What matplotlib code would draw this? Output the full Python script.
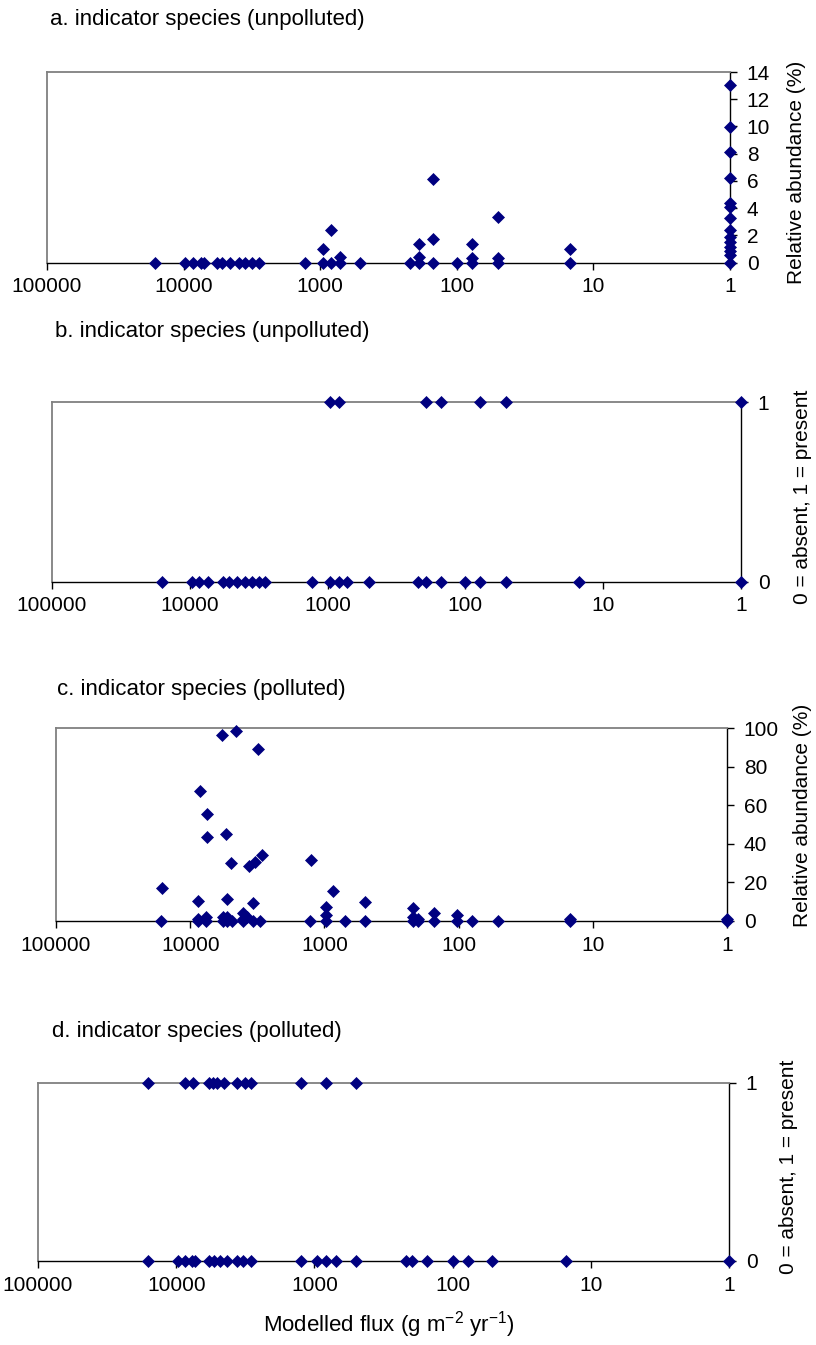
import matplotlib
matplotlib.use("Agg")
import matplotlib.pyplot as plt
from matplotlib.ticker import FixedLocator, NullLocator

plt.rcParams['font.family'] = ['Liberation Sans', 'DejaVu Sans']
plt.rcParams['mathtext.fontset'] = 'custom'
plt.rcParams['mathtext.rm'] = 'Liberation Sans'
plt.rcParams['mathtext.default'] = 'regular'

W, H = 816, 1345
MARKER = '#000080'
FRAME = '#808080'

flux_ticks = [100000, 10000, 1000, 100, 10, 1]
flux_labels = ['100000', '10000', '1000', '100', '10', '1']

# a. relative abundance of unpolluted-indicator species
a_flux = [16100, 9720, 8550, 7470, 7140, 5700, 5240, 4550, 3960, 3530, 3160, 2820,
          1285, 960, 960, 830, 830, 713, 713, 508, 219, 190, 190, 190,
          150, 150, 150, 99, 77, 77, 77, 50, 50, 50, 14.8, 14.8,
          1, 1, 1, 1, 1, 1, 1, 1, 1, 1, 1, 1, 1, 1]
a_abund = [0, 0, 0, 0, 0, 0, 0, 0, 0, 0, 0, 0,
           0, 0, 0.98, 0, 2.37, 0, 0.44, 0, 0, 0, 0.44, 1.37,
           0, 1.74, 6.11, 0, 0, 0.32, 1.37, 0, 0.32, 3.35, 0, 0.98,
           13.03, 9.93, 8.09, 6.23, 4.35, 4.06, 3.26, 2.40, 1.91, 1.54, 1.17, 0.81, 0.56, 0]

# b. presence / absence of unpolluted-indicator species
b_flux = [15800, 9640, 8610, 7380, 5740, 5220, 4540, 4000, 3510, 3145, 2826,
          1290, 967, 830, 725, 500, 222, 194, 151, 100, 79, 51, 15, 1,
          967, 830, 194, 151, 79, 51, 1]
b_present = [0, 0, 0, 0, 0, 0, 0, 0, 0, 0, 0,
             0, 0, 0, 0, 0, 0, 0, 0, 0, 0, 0, 0, 0,
             1, 1, 1, 1, 1, 1, 1]

# c. relative abundance of polluted-indicator species
c_flux = [5800, 4560, 3130, 8510, 7550, 7550, 5450, 4970, 3670, 3310, 2940, 1260, 16200,
          860, 8700, 5300, 3390, 496, 968, 217, 4020, 152, 102,
          16400, 8700, 8700, 7600, 7600, 5740, 5740, 5300, 5300, 4860, 4020, 4020,
          3750, 3390, 3000, 1275, 968, 968, 700, 496, 217, 217, 199, 199, 152,
          102, 79, 51, 14.7, 14.7, 1, 1]
c_abund = [96.5, 98.2, 89.2, 67.2, 55.5, 43.3, 45.0, 29.8, 28.6, 30.6, 34.3, 31.5, 17.0,
           15.5, 10.5, 11.5, 9.5, 10.0, 7.0, 6.5, 4.0, 4.0, 3.0,
           0, 1.0, 0, 2.0, 0, 2.0, 0, 2.0, 0, 0, 1.0, 0,
           2.0, 0, 0, 0, 3.0, 0, 0, 0, 2.0, 0, 1.0, 0, 0,
           0, 0, 0, 1.0, 0, 1.0, 0]

# d. presence / absence of polluted-indicator species
d_flux = [16100, 9750, 8670, 7720, 7340, 5820, 5350, 4850, 4310, 3650, 3300, 2890,
          1260, 962, 828, 701, 502, 219, 198, 154, 100, 78, 52, 15.2, 1,
          16000, 8670, 7550, 5790, 5420, 5070, 4530, 3660, 3190, 2855, 1255, 818, 502]
d_present = [0] * 25 + [1] * 13

fig = plt.figure(figsize=(W / 100, H / 100), dpi=100)


def px_axes(left, right, top, bottom):
    return fig.add_axes([left / W, 1 - bottom / H, (right - left) / W, (bottom - top) / H])


panels = [
    dict(box=(47, 730, 72, 262.5), x=a_flux, y=a_abund, ylim=(0, 14), yticks=list(range(0, 15, 2)),
         title='a. indicator species (unpolluted)', tpos=(50, 20),
         ylabel='Relative abundance (%)', lpos=(796, 172)),
    dict(box=(52, 741, 402, 581.5), x=b_flux, y=b_present, ylim=(0, 1), yticks=[0, 1],
         title='b. indicator species (unpolluted)', tpos=(55, 331),
         ylabel='0 = absent, 1 = present', lpos=(802, 497)),
    dict(box=(56, 727, 728, 921), x=c_flux, y=c_abund, ylim=(0, 100), yticks=list(range(0, 101, 20)),
         title='c. indicator species (polluted)', tpos=(57, 690),
         ylabel='Relative abundance (%)', lpos=(802, 815)),
    dict(box=(38, 729, 1083, 1261), x=d_flux, y=d_present, ylim=(0, 1), yticks=[0, 1],
         title='d. indicator species (polluted)', tpos=(52, 1032),
         ylabel='0 = absent, 1 = present', lpos=(789, 1167)),
]

for p in panels:
    ax = px_axes(*p['box'])
    ax.set_xscale('log')
    ax.set_xlim(100000, 1)
    ax.set_ylim(*p['ylim'])
    ax.plot(p['x'], p['y'], ls='none', marker='D', ms=6, mfc=MARKER, mec=MARKER,
            mew=0.5, clip_on=False, zorder=5)
    ax.xaxis.set_major_locator(FixedLocator(flux_ticks))
    ax.xaxis.set_minor_locator(NullLocator())
    ax.set_xticklabels(flux_labels)
    ax.yaxis.tick_right()
    ax.yaxis.set_major_locator(FixedLocator(p['yticks']))
    ax.yaxis.set_minor_locator(NullLocator())
    ax.set_yticklabels([str(v) for v in p['yticks']])
    ax.tick_params(axis='x', direction='out', length=5, width=1, pad=5.5, labelsize=15)
    ax.tick_params(axis='y', direction='out', length=5, width=1, pad=7, labelsize=15)
    for side in ('left', 'top'):
        ax.spines[side].set_color(FRAME)
        ax.spines[side].set_linewidth(1.3)
    for side in ('bottom', 'right'):
        ax.spines[side].set_color('black')
        ax.spines[side].set_linewidth(1.0)
    fig.text(p['tpos'][0] / W, 1 - p['tpos'][1] / H, p['title'], fontsize=16,
             ha='left', va='center')
    fig.text(p['lpos'][0] / W, 1 - p['lpos'][1] / H, p['ylabel'], fontsize=15,
             rotation=90, ha='center', va='center')

fig.text(389 / W, 1 - 1325 / H, r'Modelled flux (g m$^{-2}$ yr$^{-1}$)', fontsize=16,
         ha='center', va='center')

fig.savefig('out.png', dpi=100)
